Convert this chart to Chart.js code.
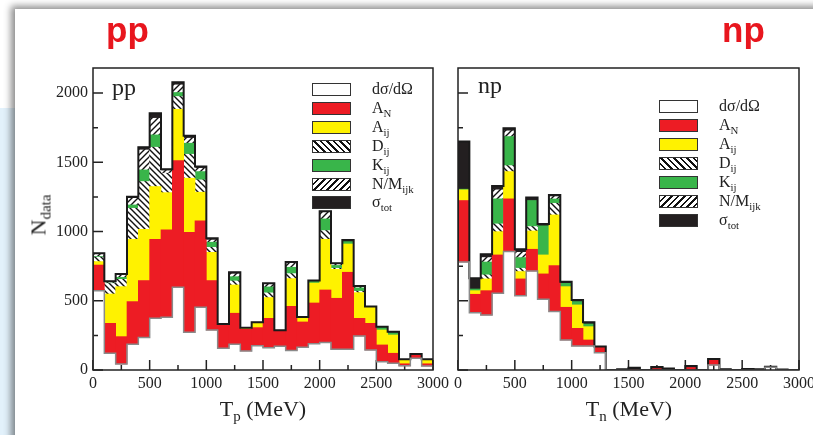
<!DOCTYPE html>
<html>
<head>
<meta charset="utf-8">
<script src="https://cdn.jsdelivr.net/npm/chart.js@4.4.1/dist/chart.umd.min.js"></script>
<style>
    body { margin: 0; width: 813px; height: 435px; overflow: hidden; background: #fff; position: relative;
           font-family: "Liberation Serif", "Times New Roman", serif; color: #222; }
    #strip { position: absolute; left: 0; top: 108px; width: 16px; height: 340px; background: #e2f1fb; }
    #card { position: absolute; left: 15px; top: 9px; width: 830px; height: 450px; background: #fff;
            box-shadow: -4px -3px 7px rgba(0,0,0,0.45); }
    canvas { position: absolute; left: 0; top: 0; }
    .hdr { position: absolute; top: 10px; font: bold 35px "Liberation Sans", Arial, sans-serif; color: #e8161e; }
    .tag { position: absolute; font-size: 24px; }
    .axt { position: absolute; font-size: 22px; white-space: nowrap; transform: translateX(-50%); }
    .axt sub, .lab sub { font-size: 0.68em; vertical-align: -0.35em; }
    #ylab { position: absolute; left: 40px; top: 215px; font-size: 22px; white-space: nowrap;
            transform: translate(-50%, -50%) rotate(-90deg); }
    .sw { position: absolute; width: 39px; height: 13px; box-sizing: border-box; border: 1.5px solid #333; }
    .lab { position: absolute; font-size: 16px; line-height: 16px; white-space: nowrap; }
</style>
</head>
<body>
<div id="strip"></div>
<div id="card"></div>
<canvas id="pp-chart" width="813" height="435"></canvas>
<canvas id="np-chart" width="813" height="435"></canvas>
<div class="hdr" style="left:106px;">pp</div>
<div class="hdr" style="left:722px;">np</div>
<div class="tag" style="left:112px;top:74px;">pp</div>
<div class="tag" style="left:478px;top:72px;">np</div>
<div class="axt" style="left:263px;top:396px;">T<sub>p</sub> (MeV)</div>
<div class="axt" style="left:629px;top:396px;">T<sub>n</sub> (MeV)</div>
<div id="ylab">N<sub style="font-size:15px;vertical-align:-5px;">data</sub></div>
<div id="legend"></div>
<script>
// bin edges (MeV) and axis ticks
const binEdges = [0, 100, 200, 300, 400, 500, 600, 700, 800, 900, 1000, 1100, 1200, 1300, 1400, 1500,
                  1600, 1700, 1800, 1900, 2000, 2100, 2200, 2300, 2400, 2500, 2600, 2700, 2800, 2900, 3000];
const xTickValues = [0, 500, 1000, 1500, 2000, 2500, 3000];
const xMinorTicks = [250, 750, 1250, 1750, 2250, 2750];
const yTickValues = [0, 500, 1000, 1500, 2000];
const yMinorTicks = [250, 750, 1250, 1750];
const yMax = 2181;

const layerNames = [['dσ/dΩ', ''], ['A', 'N'], ['A', 'ij'], ['D', 'ij'], ['K', 'ij'], ['N/M', 'ijk'], ['σ', 'tot']];

// pp: number of data per 100 MeV bin, by observable
const ppWhite = [573, 121, 44, 186, 234, 373, 381, 597, 272, 453, 289, 157, 186, 138, 176, 161, 171, 140, 164, 190, 198, 150, 150, 246, 145, 60, 48, 30, 85, 29];
const ppAN    = [185, 216, 197, 308, 412, 571, 631, 915, 723, 624, 357, 176, 224, 156, 130, 212, 116, 320, 183, 294, 380, 368, 556, 127, 192, 121, 73, 15, 28, 16];
const ppAij   = [25, 212, 361, 450, 370, 381, 269, 371, 390, 207, 204, 0, 204, 9, 31, 150, 0, 200, 28, 144, 366, 209, 204, 186, 116, 108, 132, 25, 0, 25];
const ppDij   = [32, 76, 53, 224, 345, 284, 140, 92, 173, 89, 36, 0, 29, 0, 0, 34, 0, 36, 0, 0, 63, 8, 0, 10, 0, 0, 0, 0, 0, 0];
const ppKij   = [5, 3, 14, 24, 84, 89, 0, 29, 80, 60, 37, 0, 31, 0, 0, 43, 0, 46, 0, 12, 84, 20, 17, 24, 0, 19, 17, 0, 0, 0];
const ppNM    = [18, 8, 19, 48, 144, 120, 19, 55, 36, 24, 16, 0, 20, 0, 4, 20, 0, 30, 0, 0, 49, 8, 0, 6, 0, 0, 0, 0, 0, 0];
const ppTot   = [5, 5, 6, 12, 20, 36, 10, 19, 17, 12, 12, 0, 12, 3, 4, 6, 0, 8, 8, 6, 7, 8, 12, 8, 5, 5, 7, 7, 3, 7];

// np
const npWhite = [780, 414, 397, 554, 855, 537, 715, 511, 422, 217, 174, 174, 125, 0, 0, 0, 0, 0, 0, 0, 0, 0, 36, 0, 0, 0, 0, 20, 0, 0];
const npAN    = [444, 133, 176, 277, 381, 121, 157, 183, 332, 236, 127, 43, 41, 0, 0, 5, 0, 10, 0, 0, 18, 0, 36, 0, 0, 0, 0, 0, 0, 0];
const npAij   = [77, 26, 85, 168, 197, 53, 132, 137, 366, 149, 169, 96, 0, 0, 0, 0, 0, 0, 0, 0, 0, 0, 0, 0, 0, 0, 0, 0, 0, 0];
const npDij   = [0, 0, 29, 56, 43, 24, 32, 0, 84, 0, 0, 0, 0, 0, 0, 0, 0, 0, 0, 0, 0, 0, 0, 0, 0, 0, 0, 0, 0, 0];
const npKij   = [5, 12, 93, 181, 210, 77, 188, 210, 31, 24, 24, 20, 0, 0, 0, 0, 0, 0, 0, 0, 0, 0, 0, 0, 0, 0, 0, 0, 0, 0];
const npNM    = [0, 0, 32, 65, 41, 38, 0, 0, 17, 0, 0, 0, 0, 0, 0, 0, 0, 0, 0, 0, 0, 0, 0, 0, 0, 0, 0, 0, 0, 0];
const npTot   = [344, 77, 24, 28, 19, 22, 21, 14, 12, 12, 12, 12, 4, 0, 5, 12, 0, 12, 10, 0, 10, 0, 7, 6, 0, 8, 5, 4, 4, 0];

// hatch fills
function hatch(back) {
    const c = document.createElement('canvas');
    c.width = c.height = 6;
    const g = c.getContext('2d');
    g.fillStyle = '#fff';
    g.fillRect(0, 0, 6, 6);
    g.strokeStyle = '#111';
    g.lineWidth = 1.4;
    g.beginPath();
    if (back) {
        g.moveTo(-1, -1); g.lineTo(7, 7);
        g.moveTo(-1, 5); g.lineTo(1, 7);
        g.moveTo(5, -1); g.lineTo(7, 1);
    } else {
        g.moveTo(-1, 7); g.lineTo(7, -1);
        g.moveTo(-1, 1); g.lineTo(1, -1);
        g.moveTo(5, 7); g.lineTo(7, 5);
    }
    g.stroke();
    return g.createPattern(c, 'repeat');
}

const fills = ['rgba(255,255,255,0)', '#ed1c24', '#fff200', hatch(true), '#39b54a', hatch(false), '#231f20'];
const swatchCss = [
    '#fff', '#ed1c24', '#fff200',
    'repeating-linear-gradient(45deg, #fff 0 3px, #111 3px 4.6px)',
    '#39b54a',
    'repeating-linear-gradient(135deg, #fff 0 3px, #111 3px 4.6px)',
    '#231f20'
];

function stepPoints(vals) {
    const pts = [{ x: binEdges[0], y: 0 }];
    vals.forEach((v, i) => pts.push({ x: binEdges[i], y: v }));
    pts.push({ x: binEdges[vals.length], y: vals[vals.length - 1] });
    pts.push({ x: binEdges[vals.length], y: 0 });
    return pts;
}

// inward ticks + frame
const frameTicks = {
    id: 'frameTicks',
    beforeDatasetsDraw(chart) {
        const { ctx, chartArea: a, scales: { x, y } } = chart;
        ctx.save();
        ctx.strokeStyle = '#222';
        ctx.lineWidth = 1.5;
        ctx.beginPath();
        xTickValues.concat(xMinorTicks).forEach(v => {
            const px = x.getPixelForValue(v), len = xTickValues.includes(v) ? 10 : 5;
            ctx.moveTo(px, a.bottom); ctx.lineTo(px, a.bottom - len);
        });
        yTickValues.concat(yMinorTicks).forEach(v => {
            const py = y.getPixelForValue(v), len = yTickValues.includes(v) ? 10 : 5;
            ctx.moveTo(a.left, py); ctx.lineTo(a.left + len, py);
        });
        ctx.stroke();
        ctx.restore();
    },
    afterDatasetsDraw(chart) {
        const { ctx, chartArea: a } = chart;
        ctx.save();
        ctx.strokeStyle = '#222';
        ctx.lineWidth = 1.5;
        ctx.strokeRect(a.left, a.top, a.right - a.left, a.bottom - a.top);
        ctx.restore();
    }
};

Chart.defaults.font.family = '"Liberation Serif", "Times New Roman", serif';
Chart.defaults.font.size = 16;
Chart.defaults.color = '#222';

function makeChart(id, layers, padding, showY) {
    const totals = layers[0].map((_, i) => layers.reduce((s, l) => s + l[i], 0));
    const bars = layers.map((vals, k) => ({
        type: 'bar',
        label: layerNames[k].join(''),
        data: vals.map((v, i) => ({ x: (binEdges[i] + binEdges[i + 1]) / 2, y: v || null })),
        backgroundColor: fills[k],
        borderWidth: 0,
        barPercentage: 1,
        categoryPercentage: 1,
        stack: 'bars',
        order: 2,
    }));
    const line = (vals, color, width, stack) => ({
        type: 'line',
        data: stepPoints(vals),
        stepped: true,
        borderColor: color,
        borderWidth: width,
        pointRadius: 0,
        fill: false,
        stack,
        order: 1,
    });
    return new Chart(document.getElementById(id), {
        data: { datasets: [...bars, line(layers[0], '#8a8a8a', 1.5, 'white'), line(totals, '#1a1a1a', 2, 'env')] },
        options: {
            responsive: false,
            animation: false,
            layout: { padding },
            plugins: { legend: { display: false }, tooltip: { enabled: false } },
            scales: {
                x: {
                    type: 'linear', min: 0, max: 3000, offset: false,
                    grid: { display: false, drawTicks: false },
                    border: { display: false },
                    ticks: { padding: 4, maxRotation: 0, autoSkip: false, callback: v => String(v) },
                    afterBuildTicks: s => { s.ticks = xTickValues.map(v => ({ value: v })); },
                    afterFit: s => { s.height = 22; s.paddingLeft = 0; s.paddingRight = 0; },
                },
                y: {
                    display: showY, stacked: true, min: 0, max: yMax,
                    grid: { display: false, drawTicks: false },
                    border: { display: false },
                    ticks: { padding: 5, callback: v => String(v) },
                    afterBuildTicks: s => { s.ticks = yTickValues.map(v => ({ value: v })); },
                    afterFit: s => { s.width = showY ? 93 : 0; s.paddingTop = 0; s.paddingBottom = 0; },
                },
            },
        },
        plugins: [frameTicks],
    });
}

makeChart('pp-chart', [ppWhite, ppAN, ppAij, ppDij, ppKij, ppNM, ppTot], { left: 0, top: 68, right: 380, bottom: 43 }, true);
makeChart('np-chart', [npWhite, npAN, npAij, npDij, npKij, npNM, npTot], { left: 458, top: 68, right: 14, bottom: 43 }, false);

// legends
const legend = document.getElementById('legend');
[[312, 83, 18.9], [659, 99.5, 19]].forEach(([left, top, pitch]) => {
    layerNames.forEach(([main, sub], k) => {
        const y = top + k * pitch;
        const sw = document.createElement('div');
        sw.className = 'sw';
        sw.style.cssText = `left:${left}px;top:${y}px;background:${swatchCss[k]};`;
        legend.appendChild(sw);
        const lab = document.createElement('div');
        lab.className = 'lab';
        lab.style.cssText = `left:${left + 60}px;top:${y - 2}px;`;
        lab.innerHTML = main + (sub ? `<sub>${sub}</sub>` : '');
        legend.appendChild(lab);
    });
});
</script>
</body>
</html>
